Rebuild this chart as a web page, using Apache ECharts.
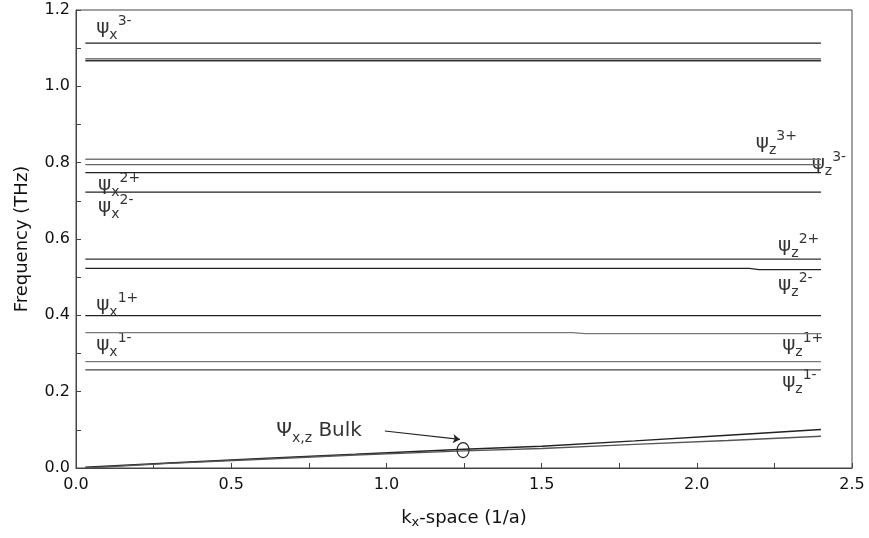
<!DOCTYPE html>
<html><head><meta charset="utf-8">
<script src="https://cdn.jsdelivr.net/npm/echarts@6/dist/echarts.min.js"></script>
<style>html,body{margin:0;padding:0;background:#fff}#c{width:869px;height:538px}</style>
</head><body><div id="c"></div>
<script>
// ---- data ----
const kRange = [0.03, 2.4];
const flatLevels = [1.113, 1.072, 1.067, 0.809, 0.795, 0.774, 0.723, 0.5475, 0.399, 0.2785, 0.257];
const steppedA_K = [0.03, 2.17, 2.2, 2.4];
const steppedA_F = [0.523, 0.523, 0.520, 0.520];
const steppedB_K = [0.03, 1.6, 1.64, 2.4];
const steppedB_F = [0.3545, 0.3545, 0.352, 0.352];
const bulkUpperK = [0.03, 0.3, 0.6, 0.9, 1.25, 1.5, 1.8, 2.1, 2.4];
const bulkUpperF = [0.002, 0.013, 0.025, 0.036, 0.049, 0.057, 0.071, 0.086, 0.101];
const bulkLowerK = [0.03, 0.3, 0.6, 0.9, 1.25, 1.5, 1.8, 2.1, 2.4];
const bulkLowerF = [0.0, 0.012, 0.023, 0.034, 0.045, 0.051, 0.062, 0.072, 0.083];
const xTicks = ['0.0', '0.5', '1.0', '1.5', '2.0', '2.5'];
const yTicks = ['0.0', '0.2', '0.4', '0.6', '0.8', '1.0', '1.2'];
// annotation labels
const modeLabelK = [0.065, 0.071, 0.071, 0.065, 0.065, 2.19, 2.37, 2.262, 2.262, 2.275, 2.275];
const modeLabelF = [1.153, 0.741, 0.684, 0.427, 0.322, 0.851, 0.796, 0.582, 0.479, 0.322, 0.225];
const modeLabelSub = ['x', 'x', 'x', 'x', 'x', 'z', 'z', 'z', 'z', 'z', 'z'];
const modeLabelSup = ['3-', '2+', '2-', '1+', '1-', '3+', '3-', '2+', '2-', '1+', '1-'];
const bulkLabelPos = [0.645, 0.097];
const bulkMarker = [1.247, 0.047];
const arrowFrom = [0.995, 0.097];
const arrowTo = [1.237, 0.075];

// ---- styles ----
const flatShade = ['#222', '#555', '#333', '#777', '#666', '#222', '#222', '#333', '#222', '#777', '#444'];
const FONT = 'DejaVu Sans, sans-serif';

const series = [];
flatLevels.forEach((v, i) => {
  series.push({type: 'line', data: [[kRange[0], v], [kRange[1], v]], symbol: 'none',
    lineStyle: {color: flatShade[i], width: 1.3}, silent: true});
});
series.push({type: 'line', data: steppedA_K.map((k, i) => [k, steppedA_F[i]]), symbol: 'none',
  lineStyle: {color: '#222', width: 1.3}});
series.push({type: 'line', data: steppedB_K.map((k, i) => [k, steppedB_F[i]]), symbol: 'none',
  lineStyle: {color: '#777', width: 1.3}});
series.push({type: 'line', data: bulkUpperK.map((k, i) => [k, bulkUpperF[i]]), symbol: 'none',
  lineStyle: {color: '#222', width: 1.4}});
series.push({type: 'line', data: bulkLowerK.map((k, i) => [k, bulkLowerF[i]]), symbol: 'none',
  lineStyle: {color: '#555', width: 1.4}});

const rich = {
  m: {fontSize: 20, fontFamily: FONT, color: '#000', lineHeight: 28, verticalAlign: 'middle'},
  s: {fontSize: 14, fontFamily: FONT, color: '#000', verticalAlign: 'bottom', lineHeight: 28},
  p: {fontSize: 14, fontFamily: FONT, color: '#000', verticalAlign: 'top', lineHeight: 28, padding: [0, 0, 6, 0]}
};
series.push({
  type: 'scatter', symbolSize: 0, silent: true,
  data: modeLabelK.map((k, i) => ({value: [k, modeLabelF[i]], sub: modeLabelSub[i], sup: modeLabelSup[i]})),
  label: {show: true, position: 'right', distance: 0,
    formatter: p => '{m|ψ}{s|' + p.data.sub + '}{p|' + p.data.sup + '}', rich: rich}
});
series.push({
  type: 'scatter', symbolSize: 0, silent: true,
  data: [{value: bulkLabelPos}],
  label: {show: true, position: 'right', distance: 0,
    formatter: '{m|Ψ}{s|x,z}{m| Bulk}', rich: rich},
  markPoint: {
    symbol: 'circle', symbolSize: [12, 15], silent: true,
    itemStyle: {color: 'rgba(0,0,0,0)', borderColor: '#222', borderWidth: 1.2},
    label: {show: false},
    data: [{coord: bulkMarker}]
  },
  markLine: {
    silent: true, symbol: ['none', 'arrow'], symbolSize: 7,
    lineStyle: {color: '#222', width: 1.2, type: 'solid', curveness: 0.25},
    label: {show: false},
    data: [[{coord: arrowFrom, lineStyle: {curveness: 0.25}}, {coord: arrowTo}]]
  }
});

const chart = echarts.init(document.getElementById('c'), null, {renderer: 'canvas'});
chart.setOption({
  animation: false,
  backgroundColor: '#fff',
  grid: {left: 76, right: 17, top: 10, bottom: 70, show: true, borderColor: '#444', borderWidth: 1},
  xAxis: {
    type: 'value', min: 0, max: 2.5, interval: 0.5,
    name: '{a|k}{b|x}{a|-space (1/a)}', nameLocation: 'middle', nameGap: 39,
    nameTextStyle: {rich: {a: {fontSize: 18, fontFamily: FONT, color: '#111', lineHeight: 22},
      b: {fontSize: 13, fontFamily: FONT, color: '#111', verticalAlign: 'bottom', lineHeight: 22, padding: [11, 0, 0, 0]}}},
    axisLine: {lineStyle: {color: '#444'}},
    axisTick: {inside: true, length: 5, lineStyle: {color: '#444'}},
    minorTick: {show: true, splitNumber: 2, length: 5, lineStyle: {color: '#444'}},
    splitLine: {show: false},
    axisLabel: {fontSize: 16, fontFamily: FONT, color: '#111', margin: 9,
      formatter: v => xTicks[Math.round(v / 0.5)]}
  },
  yAxis: {
    type: 'value', min: 0, max: 1.2, interval: 0.2,
    name: 'Frequency (THz)', nameLocation: 'middle', nameGap: 45,
    nameTextStyle: {fontSize: 18, fontFamily: FONT, color: '#111'},
    axisLine: {lineStyle: {color: '#444'}},
    axisTick: {inside: true, length: 5, lineStyle: {color: '#444'}},
    minorTick: {show: true, splitNumber: 2, length: 5, lineStyle: {color: '#444'}},
    splitLine: {show: false},
    axisLabel: {fontSize: 16, fontFamily: FONT, color: '#111', margin: 6,
      formatter: v => yTicks[Math.round(v / 0.2)]}
  },
  series: series
});
</script></body></html>
